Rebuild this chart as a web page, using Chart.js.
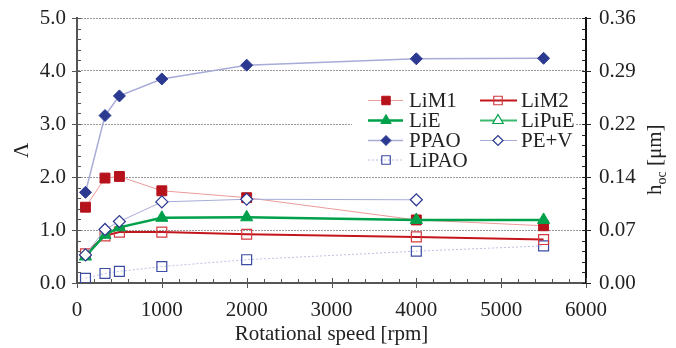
<!DOCTYPE html>
<html>
<head>
<meta charset="utf-8">
<script src="https://cdn.jsdelivr.net/npm/chart.js@4/dist/chart.umd.min.js"></script>
<style>
  html, body { margin: 0; padding: 0; background: #fff; }
  #grafico { display: block; }
</style>
</head>
<body>
<canvas id="grafico" width="676" height="348"></canvas>
<script>
// rotational speed [rpm]
const speeds = [100, 330, 500, 1000, 2000, 4000, 5500];

// Lambda values (null = no point)
const lim1  = [1.43, 1.98, 2.01, 1.74, 1.61, 1.19, 1.08];
const lim2  = [0.55, 0.89, 0.96, 0.96, 0.92, 0.87, 0.82];
const lie   = [0.50, 0.91, 1.05, 1.23, 1.24, 1.19, 1.19];
const lipue = [];
const ppao  = [1.71, 3.16, 3.53, 3.85, 4.11, 4.23, 4.24];
const pev   = [0.53, 1.01, 1.16, 1.53, 1.58, 1.57, null];
const lipao = [0.09, 0.18, 0.22, 0.31, 0.44, 0.60, 0.70];

const SERIF = '"Liberation Serif", "Times New Roman", serif';
Chart.defaults.font.family = SERIF;
Chart.defaults.font.size = 21;
Chart.defaults.color = '#222';

function pts(arr) {
    return speeds.map((s, i) => ({ x: s, y: arr[i] })).filter(p => p.y != null && p.y !== undefined);
}

// small tick marks: majors cross outward, minors point inward
const tickMarks = {
    id: 'tickMarks',
    afterDraw(chart) {
        const ctx = chart.ctx;
        const ca = chart.chartArea;
        ctx.save();
        ctx.lineWidth = 1;
        ['x', 'y', 'y2'].forEach(id => {
            const sc = chart.scales[id];
            sc.ticks.forEach((t, i) => {
                const major = i % 5 === 0;
                const p = Math.round(sc.getPixelForTick(i)) + 0.5;
                ctx.strokeStyle = id === 'y2' ? '#222' : '#555';
                ctx.beginPath();
                if (id === 'x') {
                    ctx.moveTo(p, ca.bottom + (major ? 5 : 0));
                    ctx.lineTo(p, ca.bottom - (major ? 5 : 4));
                } else if (id === 'y') {
                    ctx.moveTo(ca.left - (major ? 5 : 0), p);
                    ctx.lineTo(ca.left + 4, p);
                } else {
                    ctx.moveTo(ca.right + (major ? 5 : 0), p);
                    ctx.lineTo(ca.right - 4, p);
                }
                ctx.stroke();
            });
        });
        ctx.restore();

        // right axis title: h_oc [μm]
        ctx.save();
        ctx.translate(661, 195);
        ctx.rotate(-Math.PI / 2);
        ctx.fillStyle = '#222';
        ctx.textBaseline = 'alphabetic';
        ctx.textAlign = 'left';
        ctx.font = '21px ' + SERIF;
        ctx.fillText('h', 0, 0);
        let w = ctx.measureText('h').width;
        ctx.font = '14px ' + SERIF;
        ctx.fillText('oc', w, 5);
        w += ctx.measureText('oc').width;
        ctx.font = '21px ' + SERIF;
        ctx.fillText(' [μm]', w, 0);
        ctx.restore();
    }
};

// legend in two columns inside the plot
const legendBox = {
    id: 'legendBox',
    afterDatasetsDraw(chart) {
        const ctx = chart.ctx;
        ctx.save();
        ctx.fillStyle = '#fff';
        ctx.fillRect(352, 87, 224, 84);
        const cols = [{ l0: 368, l1: 403, m: 386, t: 409 }, { l0: 480, l1: 517, m: 498, t: 521 }];
        const rows = [100.5, 120.5, 140.5, 160];
        chart.data.datasets.forEach((ds, i) => {
            const c = cols[i % 2];
            const y = rows[Math.floor(i / 2)];
            ctx.save();
            ctx.strokeStyle = ds.borderColor;
            ctx.lineWidth = ds.borderWidth;
            ctx.setLineDash(ds.borderDash || []);
            ctx.beginPath();
            ctx.moveTo(c.l0, y);
            ctx.lineTo(c.l1, y);
            ctx.stroke();
            ctx.setLineDash([]);
            ctx.fillStyle = ds.pointBackgroundColor;
            ctx.strokeStyle = ds.pointBorderColor;
            ctx.lineWidth = ds.pointBorderWidth;
            Chart.helpers.drawPoint(ctx, {
                pointStyle: ds.pointStyle, radius: ds.pointRadius - 1,
                borderWidth: ds.pointBorderWidth, rotation: 0
            }, c.m, y);
            ctx.fillStyle = '#222';
            ctx.font = '21px ' + SERIF;
            ctx.textBaseline = 'middle';
            ctx.fillText(ds.label, c.t, y + 1);
            ctx.restore();
        });
        ctx.restore();
    }
};

const ctx = document.getElementById('grafico').getContext('2d');
new Chart(ctx, {
    type: 'line',
    data: {
        datasets: [
            {
                label: 'LiM1', data: pts(lim1), order: 7,
                borderColor: '#ec9a9a', borderWidth: 1,
                pointStyle: 'rect', pointRadius: 7, pointBorderWidth: 1,
                pointBackgroundColor: '#b5121b', pointBorderColor: '#b5121b'
            },
            {
                label: 'LiM2', data: pts(lim2), order: 5,
                borderColor: '#c3161c', borderWidth: 2,
                pointStyle: 'rect', pointRadius: 7, pointBorderWidth: 1.2,
                pointBackgroundColor: 'rgba(255,255,255,0)', pointBorderColor: '#d23c41'
            },
            {
                label: 'LiE', data: pts(lie), order: 2,
                borderColor: '#00a14b', borderWidth: 2.5,
                pointStyle: 'triangle', pointRadius: 7, pointBorderWidth: 1,
                pointBackgroundColor: '#00a14b', pointBorderColor: '#00a14b'
            },
            {
                label: 'LiPuE', data: pts(lipue), order: 3,
                borderColor: '#3cb96d', borderWidth: 2,
                pointStyle: 'triangle', pointRadius: 7, pointBorderWidth: 1.2,
                pointBackgroundColor: '#fff', pointBorderColor: '#00a14b'
            },
            {
                label: 'PPAO', data: pts(ppao), order: 4,
                borderColor: '#a7abd8', borderWidth: 1.5,
                pointStyle: 'rectRot', pointRadius: 6, pointBorderWidth: 1,
                pointBackgroundColor: '#2b3990', pointBorderColor: '#2b3990'
            },
            {
                label: 'PE+V', data: pts(pev), order: 1,
                borderColor: '#a7abd8', borderWidth: 1,
                pointStyle: 'rectRot', pointRadius: 6, pointBorderWidth: 1.2,
                pointBackgroundColor: '#fff', pointBorderColor: '#2b3990'
            },
            {
                label: 'LiPAO', data: pts(lipao), order: 6,
                borderColor: '#bcc0e4', borderWidth: 1, borderDash: [2, 2],
                pointStyle: 'rect', pointRadius: 7, pointBorderWidth: 1.2,
                pointBackgroundColor: 'rgba(255,255,255,0)', pointBorderColor: '#3b4ba3'
            }
        ]
    },
    options: {
        responsive: false,
        animation: false,
        devicePixelRatio: 1,
        layout: { padding: { top: 18, left: 0, right: 0, bottom: 0 } },
        plugins: { legend: { display: false }, tooltip: { enabled: false } },
        scales: {
            x: {
                type: 'linear', min: 0, max: 6000,
                ticks: {
                    stepSize: 200, autoSkip: false, maxRotation: 0, padding: 15,
                    callback: (v, i) => i % 5 === 0 ? String(v) : ''
                },
                grid: { color: 'transparent', drawTicks: false },
                border: { color: '#555', width: 2 },
                title: { display: true, text: 'Rotational speed [rpm]', padding: { top: 0, bottom: 1 } },
                afterFit: s => { s.height = 65; s.paddingLeft = 0; s.paddingRight = 0; }
            },
            y: {
                min: 0, max: 5,
                ticks: {
                    stepSize: 0.2, autoSkip: false, padding: 11,
                    callback: (v, i) => i % 5 === 0 ? v.toFixed(1) : ''
                },
                grid: {
                    drawTicks: false, lineWidth: 1,
                    color: c => (c.index % 5 === 0 && c.index > 0) ? '#999' : 'transparent'
                },
                border: { color: '#555', width: 2, dash: [2, 1] },
                title: { display: true, text: 'Λ', padding: { top: 10, bottom: 0 } },
                afterFit: s => { s.width = 77; s.paddingTop = 0; s.paddingBottom = 0; }
            },
            y2: {
                position: 'right', min: 0, max: 0.36,
                ticks: {
                    stepSize: 0.0144, autoSkip: false, padding: 13,
                    callback: (v, i) => i % 5 === 0 ? v.toFixed(2) : ''
                },
                grid: { drawOnChartArea: false, drawTicks: false },
                border: { color: '#111', width: 2 },
                afterFit: s => { s.width = 90; s.paddingTop = 0; s.paddingBottom = 0; }
            }
        }
    },
    plugins: [tickMarks, legendBox]
});
</script>
</body>
</html>
